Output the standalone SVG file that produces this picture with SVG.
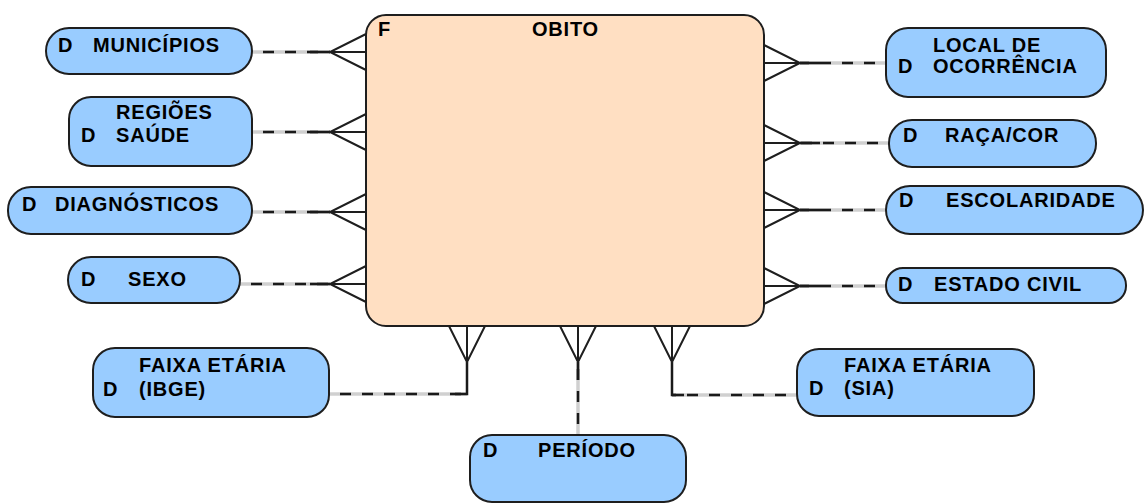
<svg xmlns="http://www.w3.org/2000/svg" width="1146" height="503" viewBox="0 0 1146 503">
<style>
  .dim { fill:#99ccff; stroke:#1e1e1e; stroke-width:2; }
  .fact { fill:#ffdfc2; stroke:#1e1e1e; stroke-width:2; }
  text { font-family:"Liberation Sans", Arial, sans-serif; font-weight:bold; font-size:20px; letter-spacing:0.8px; fill:#000; }
  .base { fill:none; stroke:#d0d0d0; stroke-width:3.5; }
  .dash { fill:none; stroke:#1a1a1a; stroke-width:2.5; stroke-dasharray:11 11; stroke-dashoffset:11; }
  .solid { fill:none; stroke:#1a1a1a; stroke-width:2.5; }
  .crow { fill:none; stroke:#1e1e1e; stroke-width:2; stroke-linejoin:miter; }
</style>
<rect width="1146" height="503" fill="#ffffff"/>

<g id="connectors">
  <g id="c-municipios">
    <path class="base" d="M252,52 H330"/>
    <path class="dash" d="M252,52 H330"/>
    <path class="solid" d="M310,52 H330"/>
    <path class="crow" d="M366,34 L330,52 L366,70 M330,52 H366"/>
  </g>
  <g id="c-regioes">
    <path class="base" d="M252,132 H330"/>
    <path class="dash" d="M252,132 H330"/>
    <path class="solid" d="M310,132 H330"/>
    <path class="crow" d="M366,114 L330,132 L366,150 M330,132 H366"/>
  </g>
  <g id="c-diagnosticos">
    <path class="base" d="M252,212 H330"/>
    <path class="dash" d="M252,212 H330"/>
    <path class="solid" d="M310,212 H330"/>
    <path class="crow" d="M366,194 L330,212 L366,230 M330,212 H366"/>
  </g>
  <g id="c-sexo">
    <path class="base" d="M240,284 H330"/>
    <path class="dash" d="M240,284 H330"/>
    <path class="solid" d="M310,284 H330"/>
    <path class="crow" d="M366,266 L330,284 L366,302 M330,284 H366"/>
  </g>
  <g id="c-local">
    <path class="base" d="M886,63 H800"/>
    <path class="dash" d="M886,63 H800"/>
    <path class="solid" d="M820,63 H800"/>
    <path class="crow" d="M764,45 L800,63 L764,81 M800,63 H764"/>
  </g>
  <g id="c-raca">
    <path class="base" d="M889,143 H800"/>
    <path class="dash" d="M889,143 H800"/>
    <path class="solid" d="M820,143 H800"/>
    <path class="crow" d="M764,125 L800,143 L764,161 M800,143 H764"/>
  </g>
  <g id="c-escolaridade">
    <path class="base" d="M886,210 H800"/>
    <path class="dash" d="M886,210 H800"/>
    <path class="solid" d="M820,210 H800"/>
    <path class="crow" d="M764,192 L800,210 L764,228 M800,210 H764"/>
  </g>
  <g id="c-estado">
    <path class="base" d="M886,286 H800"/>
    <path class="dash" d="M886,286 H800"/>
    <path class="solid" d="M820,286 H800"/>
    <path class="crow" d="M764,268 L800,286 L764,304 M800,286 H764"/>
  </g>
  <g id="c-faixa-ibge">
    <path class="base" d="M329,394 H467"/>
    <path class="dash" d="M329,394 H467"/>
    <path class="solid" d="M455,394 H467 V362"/>
    <path class="crow" d="M449,326 L467,362 L485,326 M467,362 V326"/>
  </g>
  <g id="c-periodo">
    <path class="base" d="M578,435 V362"/>
    <path class="dash" d="M578,435 V362"/>
    <path class="solid" d="M578,380 V362"/>
    <path class="crow" d="M560,326 L578,362 L596,326 M578,362 V326"/>
  </g>
  <g id="c-faixa-sia">
    <path class="base" d="M797,395 H672"/>
    <path class="dash" d="M797,395 H672"/>
    <path class="solid" d="M684,395 H672 V362"/>
    <path class="crow" d="M654,326 L672,362 L690,326 M672,362 V326"/>
  </g>
</g>

<g id="obito">
  <rect class="fact" x="366" y="15" width="398" height="311" rx="20" ry="20"/>
  <text x="378" y="36">F</text>
  <text x="532" y="36">OBITO</text>
</g>

<g id="municipios">
  <rect class="dim" x="46" y="28" width="206" height="46" rx="23" ry="23"/>
  <text x="58" y="52">D</text>
  <text x="93" y="52">MUNICÍPIOS</text>
</g>

<g id="regioes-saude">
  <rect class="dim" x="69" y="97" width="183" height="69" rx="22" ry="22"/>
  <text x="116" y="119">REGIÕES</text>
  <text x="81" y="142">D</text>
  <text x="116" y="142">SAÚDE</text>
</g>

<g id="diagnosticos">
  <rect class="dim" x="8" y="187" width="244" height="47" rx="23" ry="23"/>
  <text x="22" y="211">D</text>
  <text x="55" y="211">DIAGNÓSTICOS</text>
</g>

<g id="sexo">
  <rect class="dim" x="68" y="257" width="172" height="46" rx="23" ry="23"/>
  <text x="81" y="286">D</text>
  <text x="128" y="286">SEXO</text>
</g>

<g id="local-ocorrencia">
  <rect class="dim" x="886" y="28" width="220" height="69" rx="22" ry="22"/>
  <text x="933" y="52">LOCAL DE</text>
  <text x="898" y="73">D</text>
  <text x="933" y="73">OCORRÊNCIA</text>
</g>

<g id="raca-cor">
  <rect class="dim" x="889" y="120" width="207" height="47" rx="23" ry="23"/>
  <text x="903" y="142">D</text>
  <text x="945" y="142">RAÇA/COR</text>
</g>

<g id="escolaridade">
  <rect class="dim" x="886" y="186" width="257" height="48" rx="24" ry="24"/>
  <text x="899" y="207">D</text>
  <text x="946" y="207">ESCOLARIDADE</text>
</g>

<g id="estado-civil">
  <rect class="dim" x="886" y="268" width="240" height="35" rx="17" ry="17"/>
  <text x="898" y="291">D</text>
  <text x="934" y="291">ESTADO CIVIL</text>
</g>

<g id="faixa-ibge">
  <rect class="dim" x="93" y="348" width="236" height="69" rx="22" ry="22"/>
  <text x="139" y="372">FAIXA ETÁRIA</text>
  <text x="103" y="396">D</text>
  <text x="139" y="396">(IBGE)</text>
</g>

<g id="periodo">
  <rect class="dim" x="470" y="435" width="216" height="67" rx="22" ry="22"/>
  <text x="483" y="457">D</text>
  <text x="538" y="457">PERÍODO</text>
</g>

<g id="faixa-sia">
  <rect class="dim" x="797" y="349" width="237" height="67" rx="22" ry="22"/>
  <text x="844" y="372">FAIXA ETÁRIA</text>
  <text x="809" y="395">D</text>
  <text x="844" y="395">(SIA)</text>
</g>
</svg>
